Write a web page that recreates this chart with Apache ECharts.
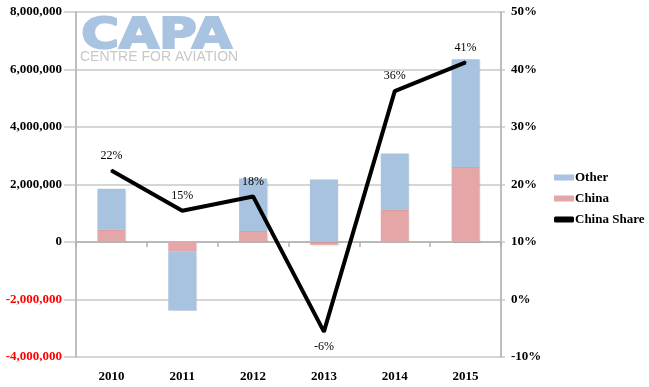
<!DOCTYPE html>
<html><head><meta charset="utf-8">
<script src="https://cdn.jsdelivr.net/npm/echarts@6/dist/echarts.min.js"></script>
<style>html,body{margin:0;padding:0;background:#fff}#c{width:649px;height:387px}</style>
</head><body><div id="c"></div>
<script>
const categories = ['2010','2011','2012','2013','2014','2015'];
const chinaValues = [420000, -340000, 380000, -100000, 1120000, 2600000];
const otherValues = [1430000, -2040000, 1820000, 2170000, 1950000, 3750000];
const chinaShare = [22.4, 15.4, 17.9, -5.6, 36.2, 41.2];
const leftTicks = [-4000000, 8000000, 2000000];
const rightTicks = [-10, 50, 10];

const serif = 'Liberation Serif';
const chart = echarts.init(document.getElementById('c'));
const fmt = v => v.toLocaleString('en-US');
const shareData = chinaShare.map(v => ({
  value: v,
  label: { position: v < 0 ? 'bottom' : 'top' }
}));
const barShadow = { shadowColor: 'rgba(0,0,0,0.12)', shadowOffsetX: 1.5, shadowOffsetY: 1, shadowBlur: 1.5 };
chart.setOption({
  animation: false,
  textStyle: { fontFamily: serif },
  grid: { left: 76, right: 148, top: 11.7, bottom: 30, containLabel: false },
  legend: {
    orient: 'vertical', left: 549, top: 166, itemGap: 8, itemWidth: 20, itemHeight: 6,
    textStyle: { fontFamily: serif, fontWeight: 'bold', fontSize: 13, color: '#000', padding: [0,0,0,-4] },
    data: [
      { name: 'Other', icon: 'rect' },
      { name: 'China', icon: 'rect' },
      { name: 'China Share', icon: 'roundRect', itemStyle: { color: '#000', opacity: 1 } }
    ]
  },
  graphic: [
    { type: 'text', left: 80, top: 14, z: -10, silent: true, scaleX: 1.2,
      style: { text: 'CAPA', font: 'bold 43px "DejaVu Sans"', fill: '#a9c4e1', stroke: '#a9c4e1', lineWidth: 2 } },
    { type: 'text', left: 80, top: 50, z: -10, silent: true,
      style: { text: 'CENTRE FOR AVIATION', font: '14px "Liberation Sans"', fill: '#c8c8c8' } }
  ],
  xAxis: [
    { type: 'category', data: categories, position: 'bottom',
      axisLine: { show: false, onZero: false }, axisTick: { show: false },
      axisLabel: { fontFamily: serif, fontWeight: 'bold', fontSize: 13, color: '#000', margin: 13 } },
    { type: 'category', data: categories, position: 'bottom',
      axisLine: { show: true, onZero: true, lineStyle: { color: '#b0b0b0', width: 1.5 } },
      axisTick: { show: true, length: 5, lineStyle: { color: '#b0b0b0', width: 1.5 } },
      axisLabel: { show: false } }
  ],
  yAxis: [
    { type: 'value', min: leftTicks[0], max: leftTicks[1], interval: leftTicks[2], position: 'left',
      axisLine: { show: true, lineStyle: { color: '#a8a8a8', width: 1.5 } },
      axisTick: { show: true, length: 12, lineStyle: { color: '#c8c8c8', width: 1.5 } },
      splitLine: { show: true, lineStyle: { color: '#c8c8c8', width: 1.5 } },
      axisLabel: { margin: 14, fontFamily: serif, fontWeight: 'bold', fontSize: 13,
        formatter: v => fmt(v),
        color: v => (Number(v) < 0 ? '#ff0000' : '#000') } },
    { type: 'value', min: rightTicks[0], max: rightTicks[1], interval: rightTicks[2], position: 'right',
      axisLine: { show: true, lineStyle: { color: '#a8a8a8', width: 1.5 } },
      axisTick: { show: true, length: 4, lineStyle: { color: '#c8c8c8', width: 1.5 } },
      splitLine: { show: false },
      axisLabel: { margin: 10, fontFamily: serif, fontWeight: 'bold', fontSize: 13, color: '#000',
        formatter: v => v + '%' } }
  ],
  series: [
    { name: 'China', type: 'bar', stack: 'total', data: chinaValues, barWidth: 28, xAxisIndex: 0,
      itemStyle: Object.assign({ color: '#e5a6a7' }, barShadow) },
    { name: 'Other', type: 'bar', stack: 'total', data: otherValues, barWidth: 28, xAxisIndex: 0,
      itemStyle: Object.assign({ color: '#a7c3df' }, barShadow) },
    { name: 'China Share', type: 'line', yAxisIndex: 1, data: shareData, z: 10,
      symbol: 'circle', symbolSize: 2, showSymbol: true,
      lineStyle: { color: '#000', width: 4 }, itemStyle: { color: '#000' },
      label: { show: true, fontFamily: serif, fontSize: 12, color: '#000', distance: 8,
        formatter: p => Math.round(p.value) + '%' },
      emphasis: { disabled: true } }
  ]
});
</script></body></html>
